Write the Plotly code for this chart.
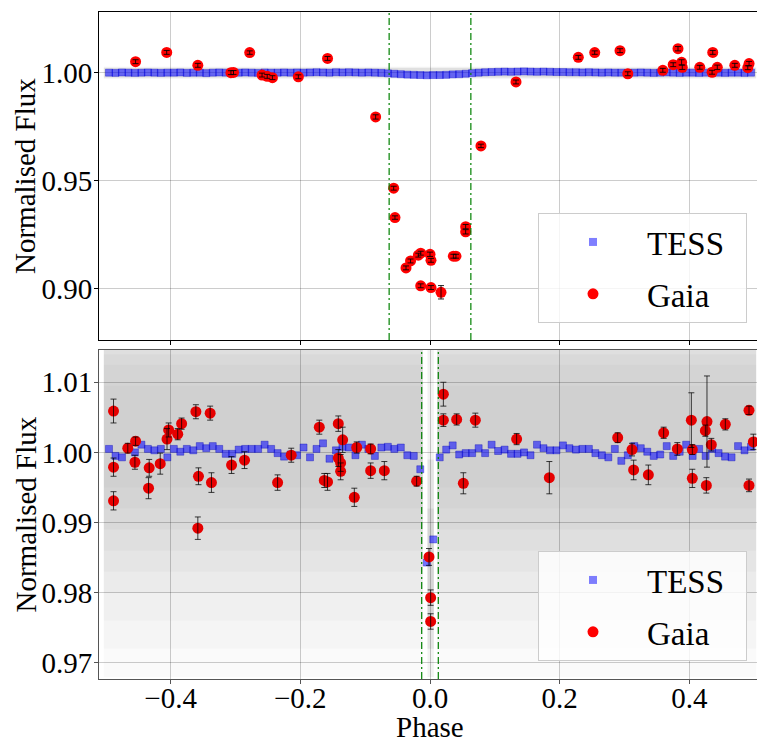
import plotly.graph_objects as go

# ---------------- data ----------------
bin_phase = [-0.495, -0.485, -0.475, -0.465, -0.455, -0.445, -0.435, -0.425, -0.415, -0.405,
             -0.395, -0.385, -0.375, -0.365, -0.355, -0.345, -0.335, -0.325, -0.315, -0.305,
             -0.295, -0.285, -0.275, -0.265, -0.255, -0.245, -0.235, -0.225, -0.215, -0.205,
             -0.195, -0.185, -0.175, -0.165, -0.155, -0.145, -0.135, -0.125, -0.115, -0.105,
             -0.095, -0.085, -0.075, -0.065, -0.055, -0.045, -0.035, -0.025, -0.015, -0.005,
             0.005, 0.015, 0.025, 0.035, 0.045, 0.055, 0.065, 0.075, 0.085, 0.095,
             0.105, 0.115, 0.125, 0.135, 0.145, 0.155, 0.165, 0.175, 0.185, 0.195,
             0.205, 0.215, 0.225, 0.235, 0.245, 0.255, 0.265, 0.275, 0.285, 0.295,
             0.305, 0.315, 0.325, 0.335, 0.345, 0.355, 0.365, 0.375, 0.385, 0.395,
             0.405, 0.415, 0.425, 0.435, 0.445, 0.455, 0.465, 0.475, 0.485, 0.495]

# top panel: TESS binned flux
tess_top = [1.0000, 0.9999, 1.0001, 1.0000, 0.9999, 1.0000, 1.0001, 1.0000, 0.9999, 1.0000,
            1.0000, 1.0001, 0.9999, 1.0000, 1.0000, 0.9998, 1.0000, 1.0001, 1.0000, 0.9999,
            1.0000, 1.0001, 1.0000, 0.9999, 1.0001, 1.0000, 1.0000, 1.0001, 1.0000, 1.0001,
            1.0000, 1.0001, 1.0002, 1.0001, 1.0000, 1.0002, 1.0001, 1.0002, 1.0001, 1.0000,
            1.0001, 1.0000, 0.9999, 0.9997, 0.9995, 0.9993, 0.9991, 0.9990, 0.9989, 0.9988,
            0.9989, 0.9989, 0.9990, 0.9992, 0.9993, 0.9995, 0.9998, 1.0000, 1.0002, 1.0003,
            1.0004, 1.0005, 1.0004, 1.0005, 1.0006, 1.0005, 1.0004, 1.0005, 1.0004, 1.0003,
            1.0003, 1.0002, 1.0002, 1.0001, 1.0002, 1.0001, 1.0000, 1.0001, 1.0000, 1.0000,
            0.9999, 1.0000, 1.0001, 1.0000, 0.9999, 1.0000, 1.0001, 1.0000, 0.9999, 1.0000,
            1.0000, 0.9999, 1.0000, 1.0001, 1.0000, 0.9999, 1.0000, 1.0000, 0.9999, 1.0000]

# bottom panel: TESS binned flux
tess_bot = [1.0005, 0.9995, 0.9993, 1.0006, 1.0000, 1.0011, 1.0005, 1.0003, 1.0005, 0.9993,
            1.0005, 1.0001, 1.0005, 1.0003, 1.0009, 1.0006, 1.0009, 1.0005, 0.9998, 0.9998,
            1.0004, 1.0005, 1.0005, 1.0005, 1.0011, 1.0005, 0.9999, 0.9994, 0.9997, 0.9996,
            1.0007, 0.9993, 1.0005, 1.0013, 0.9991, 1.0003, 1.0008, 1.0007, 0.9996, 1.0011,
            1.0005, 0.9995, 1.0007, 1.0008, 1.0005, 1.0007, 0.9996, 0.9995, 0.9976, 0.9843,
            0.9876, 0.9993, 1.0004, 1.0010, 0.9997, 0.9999, 0.9999, 1.0006, 0.9999, 1.0011,
            1.0002, 1.0004, 0.9998, 0.9998, 1.0000, 0.9996, 1.0011, 1.0006, 1.0003, 1.0003,
            1.0010, 1.0006, 1.0004, 1.0005, 1.0005, 0.9999, 0.9996, 0.9993, 1.0005, 0.9988,
            0.9996, 1.0009, 1.0006, 1.0001, 0.9995, 0.9997, 1.0009, 0.9995, 1.0001, 1.0011,
            0.9995, 1.0005, 0.9995, 1.0005, 0.9999, 0.9994, 0.9993, 1.0009, 1.0003, 1.0008]

# top panel: Gaia
gaia_top_phase = [-0.454, -0.406, -0.358, -0.307, -0.303, -0.278, -0.259, -0.251, -0.243, -0.203,
                  -0.158, -0.0838, -0.056, -0.054, -0.037, -0.030, -0.018, -0.0143, 0.0, 0.0015,
                  -0.0143, 0.0015, 0.017, 0.036, 0.040, 0.055, 0.055, 0.0786, 0.1326, 0.2287,
                  0.254, 0.293, 0.305, 0.359, 0.375, 0.3824, 0.388, 0.389, 0.416, 0.436,
                  0.435, 0.443, 0.470, 0.490, 0.492]
gaia_top_flux = [1.0051, 1.0094, 1.0034, 1.0000, 1.0001, 1.0093, 0.9989, 0.9983, 0.9977, 0.9981,
                 1.0066, 0.9795, 0.9465, 0.9329, 0.9096, 0.9128, 0.9155, 0.9164, 0.9159, 0.9131,
                 0.9013, 0.9005, 0.8983, 0.9150, 0.9150, 0.9287, 0.9263, 0.9661, 0.9957, 1.0071,
                 1.0093, 1.0102, 0.9995, 1.0011, 1.0037, 1.0111, 1.0048, 1.0025, 1.0025, 1.0094,
                 1.0002, 1.0025, 1.0034, 1.0023, 1.0042]
gaia_top_err = [0.0009, 0.0009, 0.0009, 0.0009, 0.0009, 0.0008, 0.0009, 0.0009, 0.0009, 0.0009,
                0.0009, 0.0010, 0.0009, 0.0008, 0.0009, 0.0009, 0.0009, 0.0009, 0.0010, 0.0009,
                0.0009, 0.0009, 0.0031, 0.0009, 0.0009, 0.0010, 0.0010, 0.0008, 0.0009, 0.0009,
                0.0008, 0.0009, 0.0009, 0.0009, 0.0009, 0.0010, 0.0012, 0.0010, 0.0009, 0.0009,
                0.0009, 0.0010, 0.0009, 0.0009, 0.0010]

# bottom panel: Gaia
gaia_bot_phase = [-0.488, -0.488, -0.488, -0.466, -0.454, -0.455, -0.433, -0.434, -0.416, -0.4055,
                  -0.403, -0.389, -0.383, -0.361, -0.357, -0.358, -0.339, -0.337, -0.306, -0.286,
                  -0.235, -0.214, -0.1707, -0.163, -0.158, -0.1414, -0.1347, -0.1414, -0.1378, -0.1378,
                  -0.1167, -0.113, -0.0915, -0.0915, -0.0704, -0.0206, -0.0015, 0.001, 0.001, 0.0206,
                  0.0206, 0.0411, 0.0514, 0.0699, 0.1336, 0.184, 0.2894, 0.3115, 0.314, 0.3367,
                  0.3603, 0.3814, 0.403, 0.4045, 0.4045, 0.4271, 0.4246, 0.4338, 0.4261, 0.4554,
                  0.4919, 0.4986, 0.4919]
gaia_bot_flux = [1.0059, 0.9979, 0.9931, 1.0006, 1.0016, 0.9986, 0.9978, 0.9949, 0.9984, 1.0019,
                 1.0032, 1.0026, 1.0041, 1.0058, 0.9966, 0.9892, 1.0056, 0.9957, 0.9982, 0.9989,
                 0.9957, 0.9996, 1.0036, 0.9960, 0.9958, 1.0041, 1.0018, 0.9992, 0.9985, 0.9973,
                 0.9936, 1.0007, 1.0005, 0.9974, 0.9974, 0.9959, 0.9851, 0.9793, 0.9759, 1.0083,
                 1.0046, 1.0047, 0.9956, 1.0046, 1.0019, 0.9964, 1.0021, 1.0004, 0.9975, 0.9968,
                 1.0028, 1.0005, 1.0046, 1.0004, 0.9963, 1.0044, 1.0031, 1.0011, 0.9953, 1.0040,
                 1.0060, 1.0015, 0.9953]
gaia_bot_err = [0.0017, 0.0013, 0.0013, 0.0007, 0.0006, 0.0010, 0.0012, 0.0015, 0.0015, 0.0015,
                0.0010, 0.0008, 0.0008, 0.0010, 0.0012, 0.0016, 0.0010, 0.0014, 0.0012, 0.0012,
                0.0011, 0.0010, 0.0010, 0.0010, 0.0012, 0.0011, 0.0018, 0.0012, 0.0012, 0.0012,
                0.0013, 0.0008, 0.0007, 0.0011, 0.0013, 0.0007, 0.0012, 0.0011, 0.0011, 0.0017,
                0.0009, 0.0008, 0.0015, 0.0010, 0.0008, 0.0023, 0.0007, 0.0009, 0.0014, 0.0014,
                0.0008, 0.0009, 0.0039, 0.0007, 0.0013, 0.0065, 0.0008, 0.0009, 0.0011, 0.0008,
                0.0006, 0.0011, 0.0009]

# eclipse boundaries (phase)
eclipse_top = [-0.063, 0.063]
eclipse_bot = [-0.0128, 0.0128]

# unbinned TESS cloud (approximate density envelopes)
cloud_x0 = [-0.503, 0.011]
cloud_x1 = [-0.011, 0.503]
cloud_lo = [0.968, 0.972, 0.976, 0.980, 0.983, 0.986, 0.989, 0.992, 0.995]
cloud_hi = [1.0146, 1.0146, 1.0146, 1.0146, 1.0146, 1.0146, 1.0140, 1.0125, 1.0095]
cloud_alpha = [0.018, 0.018, 0.02, 0.02, 0.022, 0.024, 0.024, 0.02, 0.015]
strip_x = [-0.004, 0.006]
strip_lo = [0.968, 0.972, 0.976]
strip_hi = [1.0146, 0.999, 0.992]
strip_alpha = [0.05, 0.06, 0.06]
halo_lo = [0.9972, 0.9978]
halo_hi = [1.0028, 1.0022]
halo_alpha = [0.05, 0.07]

legend_names = ["TESS", "Gaia"]

assert len(bin_phase) == len(tess_top) == len(tess_bot) == 100
assert len(gaia_top_phase) == len(gaia_top_flux) == len(gaia_top_err)
assert len(gaia_bot_phase) == len(gaia_bot_flux) == len(gaia_bot_err)

# ---------------- figure ----------------
# the page body adds an 8px margin: the figure is sized/positioned to fill the 765x750 window
OFF = 8
W, H = 765 - OFF, 750 - OFF
FONT = "Liberation Serif, Times New Roman, serif"
fig = go.Figure()


def px_x(p):
    return (p - OFF) / W


def px_y(p):
    return 1 - (p - OFF) / H


# top panel
fig.add_trace(go.Scatter(x=bin_phase, y=tess_top, mode="markers", xaxis="x", yaxis="y",
                         marker=dict(symbol="square", size=7, color="rgba(0,0,255,0.55)",
                                     line=dict(width=0.6, color="rgba(0,0,200,0.6)")),
                         showlegend=False, hoverinfo="skip"))
fig.add_trace(go.Scatter(x=gaia_top_phase, y=gaia_top_flux, mode="markers", xaxis="x", yaxis="y",
                         marker=dict(symbol="circle", size=11, color="red"),
                         showlegend=False))
fig.add_trace(go.Scatter(x=gaia_top_phase, y=gaia_top_flux, mode="markers", xaxis="x", yaxis="y",
                         marker=dict(size=1, color="rgba(0,0,0,0)"),
                         error_y=dict(type="data", array=gaia_top_err, color="rgba(0,0,0,0.85)",
                                      thickness=1, width=3),
                         showlegend=False, hoverinfo="skip"))

# bottom panel
fig.add_trace(go.Scatter(x=bin_phase, y=tess_bot, mode="markers", xaxis="x2", yaxis="y2",
                         marker=dict(symbol="square", size=7, color="rgba(0,0,255,0.55)",
                                     line=dict(width=0.6, color="rgba(0,0,180,0.6)")),
                         showlegend=False))
fig.add_trace(go.Scatter(x=gaia_bot_phase, y=gaia_bot_flux, mode="markers", xaxis="x2", yaxis="y2",
                         marker=dict(symbol="circle", size=11, color="rgba(230,0,0,1)"),
                         showlegend=False))
fig.add_trace(go.Scatter(x=gaia_bot_phase, y=gaia_bot_flux, mode="markers", xaxis="x2", yaxis="y2",
                         marker=dict(size=1, color="rgba(0,0,0,0)"),
                         error_y=dict(type="data", array=gaia_bot_err, color="rgba(0,0,0,0.75)",
                                      thickness=1, width=3),
                         showlegend=False, hoverinfo="skip"))

# legend-only entries (an en space widens the box like the reference legend frame)
for lg in ["legend", "legend2"]:
    xa = "x" if lg == "legend" else "x2"
    ya = "y" if lg == "legend" else "y2"
    fig.add_trace(go.Scatter(x=[None], y=[None], mode="markers", name=legend_names[0] + "\u2002",
                             legend=lg, xaxis=xa, yaxis=ya, legendgroup=lg + "t",
                             marker=dict(symbol="square", size=8, color="rgba(0,0,255,0.5)")))
    fig.add_trace(go.Scatter(x=[None], y=[None], mode="markers", name=legend_names[1],
                             legend=lg, xaxis=xa, yaxis=ya, legendgroup=lg + "g",
                             marker=dict(symbol="circle", size=11, color="red")))

shapes = []
# top halo of unbinned points
for lo, hi, a in zip(halo_lo, halo_hi, halo_alpha):
    shapes.append(dict(type="rect", xref="x", yref="y", x0=cloud_x0[0], x1=cloud_x1[1],
                       y0=lo, y1=hi, fillcolor=f"rgba(0,0,0,{a})", line=dict(width=0),
                       layer="below"))
# bottom cloud
for x0, x1 in zip(cloud_x0, cloud_x1):
    for lo, hi, a in zip(cloud_lo, cloud_hi, cloud_alpha):
        shapes.append(dict(type="rect", xref="x2", yref="y2", x0=x0, x1=x1, y0=lo, y1=hi,
                           fillcolor=f"rgba(0,0,0,{a})", line=dict(width=0), layer="below"))
for lo, hi, a in zip(strip_lo, strip_hi, strip_alpha):
    shapes.append(dict(type="rect", xref="x2", yref="y2", x0=strip_x[0], x1=strip_x[1], y0=lo, y1=hi,
                       fillcolor=f"rgba(0,0,0,{a})", line=dict(width=0), layer="below"))
# eclipse boundaries
for p in eclipse_top:
    shapes.append(dict(type="line", xref="x", yref="y domain", x0=p, x1=p, y0=0, y1=1,
                       line=dict(color="green", width=1.2, dash="7px,3px,2px,3px"), layer="above"))
for p in eclipse_bot:
    shapes.append(dict(type="line", xref="x2", yref="y2 domain", x0=p, x1=p, y0=0, y1=1,
                       line=dict(color="green", width=1.2, dash="7px,3px,2px,3px"), layer="above"))

xrange = [-0.5104, 0.5104]
xdom = [px_x(99), px_x(761)]
ydom_top = [px_y(340), px_y(12)]
ydom_bot = [px_y(679), px_y(350)]
grid = "rgba(0,0,0,0.2)"
tickfont = dict(family=FONT, size=29, color="black")

common_x = dict(range=xrange, domain=xdom, tickvals=[-0.4, -0.2, 0.0, 0.2, 0.4], tickformat=".1f",
                showgrid=True, gridcolor=grid, gridwidth=1, zeroline=False, ticks="outside",
                ticklen=4, tickwidth=1, mirror=True, showline=True, linewidth=1, tickfont=tickfont,
                ticklabelstandoff=-11)
common_y = dict(tickformat=".2f", showgrid=True, gridcolor=grid, zeroline=False, ticks="outside",
                ticklen=4, mirror=True, showline=True, linewidth=1, tickfont=tickfont,
                ticklabelstandoff=-4)

legend_common = dict(xanchor="left", yanchor="top", bgcolor="rgba(255,255,255,0.8)",
                     bordercolor="#cccccc", borderwidth=1,
                     font=dict(family=FONT, size=33, color="black"), itemwidth=98,
                     tracegroupgap=6, itemsizing="trace")

fig.update_layout(
    width=W, height=H, margin=dict(l=0, r=0, t=0, b=0),
    paper_bgcolor="white", plot_bgcolor="white",
    font=dict(family=FONT, color="black"),
    xaxis=dict(**common_x, anchor="y", showticklabels=False, linecolor="black", tickcolor="black"),
    yaxis=dict(**common_y, range=[0.8762, 1.0281], domain=ydom_top, anchor="x",
               tickvals=[0.90, 0.95, 1.00], linecolor="black", tickcolor="black"),
    xaxis2=dict(**common_x, anchor="y2", showticklabels=True, linecolor="#555555", tickcolor="#555555"),
    yaxis2=dict(**common_y, range=[0.9677, 1.0146], domain=ydom_bot, anchor="x2",
                tickvals=[0.97, 0.98, 0.99, 1.00, 1.01], linecolor="#555555", tickcolor="#555555"),
    shapes=shapes,
    legend=dict(**legend_common, x=px_x(538), y=px_y(213)),
    legend2=dict(**legend_common, x=px_x(538), y=px_y(551)),
    annotations=[
        dict(text="Normalised Flux", xref="paper", yref="paper", x=px_x(25),
             y=(ydom_top[0] + ydom_top[1]) / 2, textangle=-90, showarrow=False, borderpad=0,
             font=dict(family=FONT, size=29, color="black"), xanchor="center", yanchor="middle"),
        dict(text="Normalised Flux", xref="paper", yref="paper", x=px_x(25),
             y=(ydom_bot[0] + ydom_bot[1]) / 2, textangle=-90, showarrow=False, borderpad=0,
             font=dict(family=FONT, size=29, color="black"), xanchor="center", yanchor="middle"),
        dict(text="Phase", xref="x2", yref="paper", x=0.0, y=px_y(727), showarrow=False,
             font=dict(family=FONT, size=29, color="black"), xanchor="center", yanchor="middle"),
    ],
)

fig.write_html("out.html")
